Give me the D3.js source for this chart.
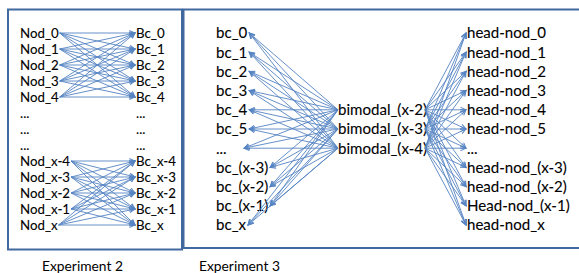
<!DOCTYPE html>
<html><head><meta charset="utf-8">
<script src="https://cdn.jsdelivr.net/npm/d3@7"></script>
<style>html,body{margin:0;padding:0;background:#fff;} svg{display:block;}</style>
</head><body>
<svg id="c" width="579" height="273"></svg>
<script>
// ---- data ----
const exp2Sources = ["Nod_0","Nod_1","Nod_2","Nod_3","Nod_4","...","...","...","Nod_x-4","Nod_x-3","Nod_x-2","Nod_x-1","Nod_x"];
const exp2Targets = ["Bc_0","Bc_1","Bc_2","Bc_3","Bc_4","...","...","...","Bc_x-4","Bc_x-3","Bc_x-2","Bc_x-1","Bc_x"];
const exp2Groups = [[0,1,2,3,4],[8,9,10,11,12]];
const exp3Bc = ["bc_0","bc_1","bc_2","bc_3","bc_4","bc_5","...","bc_(x-3)","bc_(x-2)","bc_(x-1)","bc_x"];
const exp3Bimodal = ["bimodal_(x-2)","bimodal_(x-3)","bimodal_(x-4)"];
const exp3BimodalRows = [4,5,6];
const exp3Head = ["head-nod_0","head-nod_1","head-nod_2","head-nod_3","head-nod_4","head-nod_5","...","head-nod_(x-3)","head-nod_(x-2)","Head-nod_(x-1)","head-nod_x"];
const panelTitles = ["Experiment 2","Experiment 3"];

// ---- styling ----
const FONT = "Lato, 'Liberation Sans', sans-serif";
const BOX = "#41699f";
const ARROW = "#5583c2";
const svg = d3.select("#c");

// size font so a reference string reaches a target width
function fitSize(str, targetW) {
  const t = svg.append("text").attr("font-family", FONT).attr("font-size", 20).text(str);
  const w = t.node().getComputedTextLength();
  t.remove();
  return 20 * targetW / w;
}
const fsLeft = fitSize("Bc_x-4", 40);
const fsRight = fitSize("head-nod_0", 79);
const fsTitle = fitSize("Experiment 2", 81);

// boxes
svg.append("rect").attr("x", 8).attr("y", 9.5).attr("width", 174).attr("height", 240)
  .attr("fill", "none").attr("stroke", BOX).attr("stroke-width", 2);
svg.append("rect").attr("x", 183.5).attr("y", 9.5).attr("width", 420).attr("height", 238.5)
  .attr("fill", "none").attr("stroke", BOX).attr("stroke-width", 2);

// arrow marker
svg.append("defs").append("marker").attr("id", "ah")
  .attr("markerUnits", "userSpaceOnUse").attr("markerWidth", 8).attr("markerHeight", 8)
  .attr("viewBox", "0 0 8 8").attr("refX", 6).attr("refY", 3).attr("orient", "auto")
  .append("path").attr("d", "M0.5,0.5 L6,3 L0.5,5.5").attr("fill", "none")
  .attr("stroke", ARROW).attr("stroke-width", 1);

// scales
const yL = d3.scalePoint().domain(d3.range(exp2Sources.length)).range([33, 225]);
const yR = d3.scalePoint().domain(d3.range(exp3Bc.length)).range([33, 225]);

function labels(arr, x, yScale, fs, rows) {
  const g = svg.append("g");
  const sel = g.selectAll("text").data(arr).join("text")
    .attr("x", x).attr("y", (d, i) => yScale(rows ? rows[i] : i)).attr("dy", "0.36em")
    .attr("font-family", FONT).attr("font-size", fs).attr("fill", "#000")
    .attr("stroke", "#000").attr("stroke-width", 0.1).text(d => d);
  return sel.nodes().map(n => n.getComputedTextLength());
}

const wSrc = labels(exp2Sources, 20, yL, fsLeft);
labels(exp2Targets, 136, yL, fsLeft);
const wBc = labels(exp3Bc, 216, yR, fsRight);
const wBi = labels(exp3Bimodal, 338, yR, fsRight, exp3BimodalRows);
labels(exp3Head, 467, yR, fsRight);

// edges
const edges = [];
exp2Groups.forEach(g => g.forEach(s => g.forEach(t => {
  edges.push({x1: 20 + wSrc[s] + 1, y1: yL(s), x2: 135, y2: yL(t)});
})));
exp3BimodalRows.forEach((r, bi) => {
  exp3Bc.forEach((d, i) => edges.push({x1: 338, y1: yR(r), x2: 216 + Math.max(wBc[i], 26) + 2, y2: yR(i)}));
  exp3Head.forEach((d, i) => edges.push({x1: 338 + wBi[bi] - 2, y1: yR(r), x2: 466, y2: yR(i)}));
});
svg.append("g").selectAll("line").data(edges).join("line")
  .attr("x1", d => d.x1).attr("y1", d => d.y1).attr("x2", d => d.x2).attr("y2", d => d.y2)
  .attr("stroke", ARROW).attr("stroke-width", 0.9).attr("marker-end", "url(#ah)");

// titles
svg.selectAll("text.title").data(panelTitles).join("text").attr("class", "title")
  .attr("x", (d, i) => i === 0 ? 42 : 199).attr("y", 266).attr("dy", "0.36em")
  .attr("font-family", FONT).attr("font-size", fsTitle).attr("fill", "#000").text(d => d);
</script>
</body></html>
